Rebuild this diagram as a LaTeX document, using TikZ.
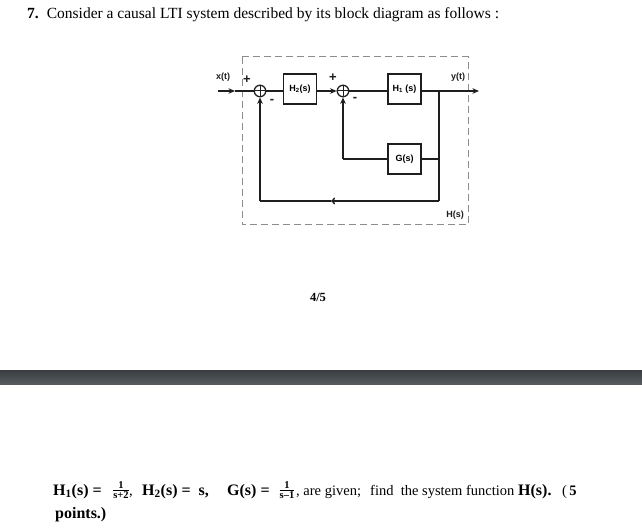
\documentclass[tikz,border=0pt]{standalone}
\usepackage{fontspec}
\setmainfont{Liberation Serif}
\newfontfamily\diagfont{Liberation Sans}
\usetikzlibrary{arrows.meta}
\definecolor{ink}{HTML}{1E1E1E}
\definecolor{dashgray}{HTML}{8C8C8C}
\definecolor{bartop}{HTML}{3A3D40}
\definecolor{barbot}{HTML}{565B60}
\newcommand{\smallfr}[2]{$\frac{\mbox{\bfseries\fontsize{10.5}{11}\selectfont #1}}{\mbox{\bfseries\fontsize{10.5}{11}\selectfont #2}}$}
\tikzset{
  wire/.style={draw=ink, line width=1.5pt},
  arr/.style={wire, -{Stealth[length=6.5pt,width=5.5pt]}},
  blockbox/.style={draw=ink, line width=1.5pt, minimum width=33pt, minimum height=30pt, inner sep=0pt, font=\diagfont\bfseries\fontsize{9}{10}\selectfont},
  sumnode/.style={draw=ink, line width=1.3pt, circle, minimum size=11.5pt, inner sep=0pt},
  lbl/.style={inner sep=0pt, font=\diagfont\bfseries\fontsize{9}{10}\selectfont, text=ink},
  sign/.style={inner sep=0pt, font=\diagfont\bfseries\fontsize{13}{13}\selectfont, text=ink},
  boundary/.style={draw=dashgray, line width=1pt, dash pattern=on 7pt off 4pt},
  qtext/.style={anchor=base west, inner sep=0pt, font=\fontsize{14.5}{18}\selectfont},
  qmath/.style={anchor=base west, inner sep=0pt, font=\bfseries\fontsize{16}{18}\selectfont},
}
\begin{document}
\begin{tikzpicture}[x=1pt,y=-1pt]
\useasboundingbox (0,0) rectangle (642,529);
\fill[white] (0,0) rectangle (642,529);

% header text
\node[anchor=base west, inner sep=0pt, font=\fontsize{15.5}{18}\selectfont] (title) at (27,19) {\textbf{7.}\hspace{8pt}Consider a causal LTI system described by its block diagram as follows :};

% boundary
\draw[boundary] (242,57) rectangle (468,225);
\node[lbl, anchor=center] (hlab) at (455,215) {H(s)};

% blocks
\node[sumnode] (s1) at (260,91) {};
\draw[ink, line width=1pt] (s1.north) -- (s1.south) (s1.west) -- (s1.east);
\node[sumnode] (s2) at (343,91) {};
\draw[ink, line width=1pt] (s2.north) -- (s2.south) (s2.west) -- (s2.east);
\node[blockbox] (h2) at (300,89) {H\textsubscript{2}(s)};
\node[blockbox] (h1) at (404.5,89) {H\textsubscript{1} (s)};
\node[blockbox] (g) at (404.5,159) {G(s)};

\coordinate (xin) at (218,91);
\coordinate (xmid) at (235,91);
\coordinate (br) at (439,91);
\coordinate (yout) at (479,91);
\coordinate (gtap) at (439,159);
\coordinate (bcorner) at (439,201);
\coordinate (bmid) at (331,201);
\coordinate (lcorner) at (260,201);
\coordinate (gcorner) at (343,159);

% signal path
\draw[arr] (xin) -- (xmid);
\draw[wire] (xmid) -- (s1.west);
\draw[wire] (s1.east) -- (h2.west |- s1.east);
\draw[arr] (h2.east |- s2.west) -- (s2.west);
\draw[wire] (s2.east) -- (h1.west |- s2.east);
\draw[arr] (h1.east |- br) -- (yout);

% inner feedback through G
\draw[wire] (br) -- (gtap) -- (g.east);
\draw[wire] (g.west) -- (gcorner);
\draw[arr] (gcorner) -- (s2.south);

% outer feedback
\draw[wire] (gtap) -- (bcorner);
\draw[wire, -{To[length=4pt,width=7pt]}] (bcorner) -- (bmid);
\draw[wire] (bmid) -- (lcorner);
\draw[arr] (lcorner) -- (s1.south);

% labels
\node[lbl] (xl) at (223,77) {x(t)};
\node[lbl] (yl) at (458,77) {y(t)};
\node[sign] (p1) at (247,80) {+};
\node[sign] (m1) at (272,101) {-};
\node[sign] (p2) at (333,78) {+};
\node[sign] (m2) at (355,99) {-};

% page number
\node[inner sep=0pt, font=\bfseries\fontsize{12.5}{14}\selectfont] (pg) at (318,297) {4/5};

% dark bar
\shade[top color=bartop, bottom color=barbot] (0,370) rectangle (642,384);

% question text
\node[qmath] (q1a) at (53,495) {H\textsubscript{1}(s) =};
\node[inner sep=0pt, font=\fontsize{15.5}{18}\selectfont] (q1b) at (121,490) {\smallfr{1}{s+2}};
\node[qtext] (q1c) at (129,495) {,};
\node[qmath] (q1d) at (142,495) {H\textsubscript{2}(s) =\ \ s,};
\node[qmath] (q1e) at (227,495) {G(s) =};
\node[inner sep=0pt, font=\fontsize{15.5}{18}\selectfont] (q1f) at (287,490) {\smallfr{1}{s--1}};
\node[qtext] (q1g) at (296,495) {, are given;};
\node[qtext] (q1h) at (370,495) {find\ \ the system function};
\node[qmath] (q1i) at (518,495) {H(s).};
\node[qtext] (q1j) at (562,495) {(\,\textbf{5}};
\node[qmath] (q2) at (55,518) {points.)};
\end{tikzpicture}
\end{document}
